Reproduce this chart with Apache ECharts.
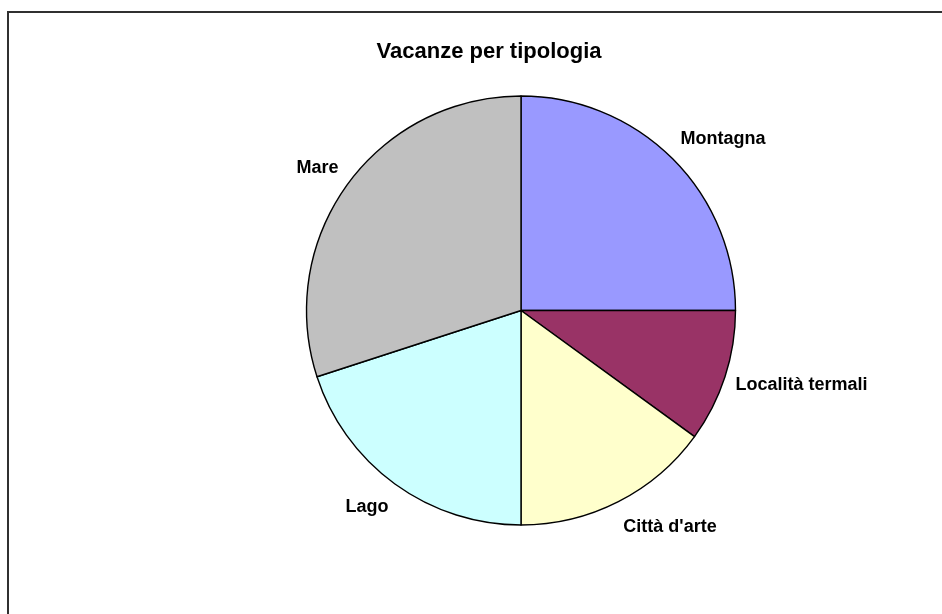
<!DOCTYPE html>
<html>
<head>
<meta charset="utf-8">
<style>
  html, body { margin: 0; padding: 0; background: #ffffff; }
  #chart { width: 942px; height: 614px; }
</style>
<script src="https://cdn.jsdelivr.net/npm/echarts@6/dist/echarts.min.js"></script>
</head>
<body>
<div id="chart"></div>
<script>
// Holiday types and their shares (percent), clockwise from 12 o'clock
const categories = ['Montagna', 'Località termali', "Città d'arte", 'Lago', 'Mare'];
const shares = [25, 10, 15, 20, 30];
const sliceColors = ['#9999FF', '#993366', '#FFFFCC', '#CCFFFF', '#C0C0C0'];
const chartTitle = 'Vacanze per tipologia';

const total = shares.reduce((a, b) => a + b, 0);

// Mid angle of each slice, measured clockwise from the top
function midAngle(i) {
  let before = 0;
  for (let k = 0; k < i; k++) before += shares[k];
  return ((before + shares[i] / 2) / total) * 2 * Math.PI;
}

const chart = echarts.init(document.getElementById('chart'), null, { renderer: 'canvas' });

chart.setOption({
  backgroundColor: '#ffffff',
  animation: false,
  title: {
    text: chartTitle,
    left: 484,
    top: 36,
    textAlign: 'center',
    textStyle: {
      fontFamily: 'Liberation Sans, Arial, sans-serif',
      fontWeight: 'bold',
      fontSize: 22,
      color: '#000000'
    }
  },
  graphic: [{
    type: 'rect',
    silent: true,
    shape: { x: 8, y: 12, width: 1200, height: 1200 },
    style: { fill: null, stroke: '#303030', lineWidth: 2 }
  }],
  series: [{
    type: 'pie',
    center: [521, 310.5],
    radius: 214.5,
    startAngle: 90,
    clockwise: true,
    avoidLabelOverlap: false,
    data: categories.map((name, i) => ({
      name: name,
      value: shares[i],
      itemStyle: { color: sliceColors[i] }
    })),
    itemStyle: { borderColor: '#000000', borderWidth: 1.4 },
    label: {
      show: true,
      position: 'outside',
      formatter: '{b}',
      distanceToLabelLine: 0,
      fontFamily: 'Liberation Sans, Arial, sans-serif',
      fontWeight: 'bold',
      fontSize: 18,
      color: '#000000'
    },
    labelLine: { show: false, length: 11, length2: 0 },
    // shift each label vertically away from the rim, more so near the top and bottom
    labelLayout: function (params) {
      const a = midAngle(params.dataIndex);
      return { dy: -Math.cos(a) * 17 };
    },
    emphasis: { disabled: true }
  }]
});
</script>
</body>
</html>
